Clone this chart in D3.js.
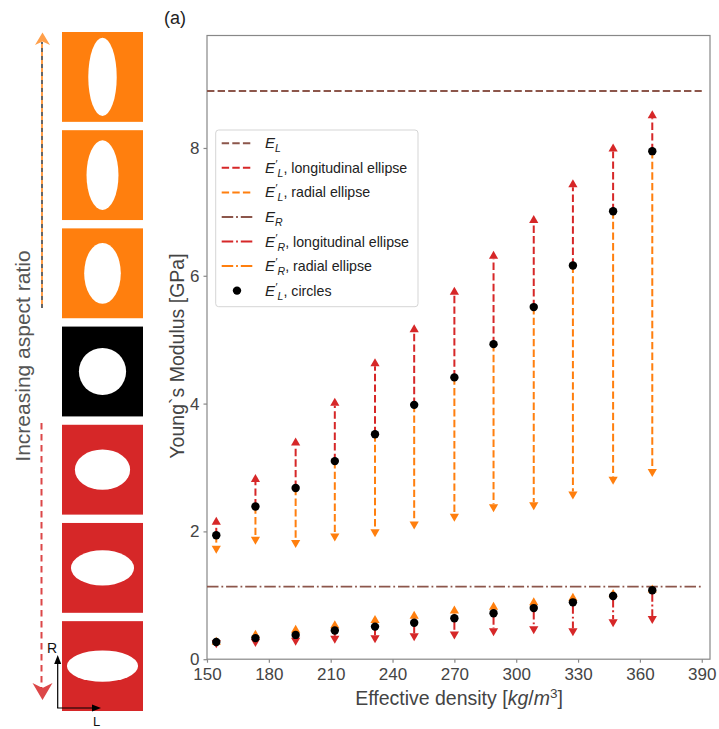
<!DOCTYPE html>
<html>
<head>
<meta charset="utf-8">
<script src="https://cdnjs.cloudflare.com/ajax/libs/d3/7.8.5/d3.min.js"></script>
<style>
  body { margin: 0; background: #fff; }
  svg { font-family: "Liberation Sans", Arial, sans-serif; }
</style>
</head>
<body>
<svg width="719" height="729"></svg>
<script>
// data
var density = [154.5, 173.5, 193, 212, 231.5, 250.5, 270, 289, 308.5, 327.5, 347, 366];
var ELcircles = [1.94, 2.39, 2.68, 3.10, 3.52, 3.98, 4.41, 4.93, 5.51, 6.16, 7.01, 7.95];
var ELlong = [2.23, 2.90, 3.47, 4.09, 4.71, 5.24, 5.83, 6.39, 6.95, 7.51, 8.07, 8.59];
var ELrad = [1.65, 1.79, 1.74, 1.84, 1.91, 2.03, 2.15, 2.30, 2.33, 2.50, 2.73, 2.85];
var ERcircles = [0.27, 0.33, 0.38, 0.45, 0.51, 0.57, 0.64, 0.72, 0.80, 0.89, 0.99, 1.08];
var ERlong = [0.17, 0.19, 0.21, 0.24, 0.25, 0.28, 0.31, 0.36, 0.39, 0.36, 0.50, 0.55];
var ERrad = [0.35, 0.46, 0.54, 0.61, 0.69, 0.76, 0.84, 0.90, 0.97, 1.04, 1.10, 1.17];
var EL = 8.89, ER = 1.135;
var xTicks = [150, 180, 210, 240, 270, 300, 330, 360, 390];
var yTicks = [0, 2, 4, 6, 8];
// aspect ratio (height / width) of the pores on the left
var aspect = [2.75, 2.18, 1.66, 1, 0.73, 0.56, 0.44];
var poreType = ["radial", "radial", "radial", "circle", "long", "long", "long"];

var red = "#d62728", orange = "#ff7f0e", brown = "#8c564b", txt = "#444", spine = "#888";

var svg = d3.select("svg");

var x = d3.scaleLinear().domain([150, 394]).range([207, 710]),
    y = d3.scaleLinear().domain([0, 9.76]).range([659.2, 35.5]);

// frame
svg.append("rect")
    .attr("x", 207).attr("y", 35.5)
    .attr("width", 503).attr("height", 623.7)
    .attr("fill", "none").attr("stroke", spine).attr("stroke-width", 1.2);

var xAxis = svg.append("g")
    .attr("transform", "translate(0,659.2)")
    .call(d3.axisBottom(x).tickValues(xTicks).tickSize(3.5).tickPadding(5));
var yAxis = svg.append("g")
    .attr("transform", "translate(207,0)")
    .call(d3.axisLeft(y).tickValues(yTicks).tickSize(3.5).tickPadding(4));
[xAxis, yAxis].forEach(function (a) {
    a.select(".domain").remove();
    a.selectAll("line").attr("stroke", spine).attr("stroke-width", 1.2);
    a.selectAll("text").attr("fill", txt).attr("font-size", 17)
        .attr("font-family", "Liberation Sans, Arial, sans-serif");
});
//axes

var dash = "7.4,3.2", dashdot = "11.5,2.9,1.8,2.9";

// reference lines E_L and E_R
svg.append("line")
    .attr("x1", x(150)).attr("x2", x(390))
    .attr("y1", y(EL)).attr("y2", y(EL))
    .attr("stroke", brown).attr("stroke-width", 2).attr("stroke-dasharray", dash);
svg.append("line")
    .attr("x1", x(150)).attr("x2", x(390))
    .attr("y1", y(ER)).attr("y2", y(ER))
    .attr("stroke", brown).attr("stroke-width", 1.8).attr("stroke-dasharray", dashdot);

function arrows(from, to, color, pattern) {
    var g = svg.append("g");
    density.forEach(function (d, i) {
        var x0 = x(d), y0 = y(from[i]), y1 = y(to[i]);
        var dir = y1 < y0 ? 1 : -1;   // 1 = pointing up
        var headLen = 8, headW = 4.6;
        var yBase = y1 + dir * headLen;
        if ((y0 - yBase) * dir > 0) {
            g.append("line")
                .attr("x1", x0).attr("x2", x0)
                .attr("y1", y0).attr("y2", yBase)
                .attr("stroke", color).attr("stroke-width", 2)
                .attr("stroke-dasharray", pattern);
        }
        g.append("path")
            .attr("d", "M" + x0 + "," + y1 + "L" + (x0 + headW) + "," + yBase +
                "L" + (x0 - headW) + "," + yBase + "Z")
            .attr("fill", color);
    });
}
arrows(ELcircles, ELlong, red, dash);
arrows(ELcircles, ELrad, orange, dash);
arrows(ERcircles, ERrad, orange, dashdot);
arrows(ERcircles, ERlong, red, dashdot);
//arrows from circles to the ellipse cases

svg.selectAll(".dotL")
    .data(density)
    .enter().append("circle")
    .attr("cx", function (d) { return x(d); })
    .attr("cy", function (d, i) { return y(ELcircles[i]); })
    .attr("r", 4.2).attr("fill", "#000");
svg.selectAll(".dotR")
    .data(density)
    .enter().append("circle")
    .attr("cx", function (d) { return x(d); })
    .attr("cy", function (d, i) { return y(ERcircles[i]); })
    .attr("r", 4.2).attr("fill", "#000");
//circle results

// axis labels and title
svg.append("text")
    .attr("x", 459).attr("y", 705)
    .attr("text-anchor", "middle").attr("fill", txt).attr("font-size", 19.5)
    .html('Effective density [<tspan font-style="italic">kg</tspan>/<tspan font-style="italic">m</tspan><tspan dy="-7" font-size="13.5">3</tspan><tspan dy="7">]</tspan>');
svg.append("text")
    .attr("transform", "translate(184,356) rotate(-90)")
    .attr("text-anchor", "middle").attr("fill", txt).attr("font-size", 19.5)
    .text("Young`s Modulus [GPa]");
svg.append("text")
    .attr("x", 164).attr("y", 24)
    .attr("fill", "#222").attr("font-size", 18)
    .text("(a)");

// legend
var legendItems = [
    { color: brown, pattern: dash, sub: "L", prime: false, label: "" },
    { color: red, pattern: dash, sub: "L", prime: true, label: ", longitudinal ellipse" },
    { color: orange, pattern: dash, sub: "L", prime: true, label: ", radial ellipse" },
    { color: brown, pattern: dashdot, sub: "R", prime: false, label: "" },
    { color: red, pattern: dashdot, sub: "R", prime: true, label: ", longitudinal ellipse" },
    { color: orange, pattern: dashdot, sub: "R", prime: true, label: ", radial ellipse" },
    { color: "#000", pattern: null, sub: "L", prime: true, label: ", circles" }
];
svg.append("rect")
    .attr("x", 215.7).attr("y", 130).attr("width", 202.3).attr("height", 176.7)
    .attr("rx", 3).attr("fill", "#fff").attr("fill-opacity", 0.85)
    .attr("stroke", "#d5d5d5").attr("stroke-width", 1);
var leg = svg.selectAll(".leg")
    .data(legendItems)
    .enter().append("g")
    .attr("transform", function (d, i) { return "translate(0," + (143.3 + i * 24.55) + ")"; });
leg.each(function (d) {
    var g = d3.select(this);
    if (d.pattern) {
        g.append("line")
            .attr("x1", 221.7).attr("x2", 252.3)
            .attr("stroke", d.color).attr("stroke-width", 2)
            .attr("stroke-dasharray", d.pattern);
    } else {
        g.append("circle").attr("cx", 237).attr("r", 4.2).attr("fill", "#000");
    }
    var t = g.append("text").attr("x", 265).attr("y", 5).attr("fill", "#222").attr("font-size", 14.2);
    t.append("tspan").attr("font-style", "italic").attr("font-size", 15).text("E");
    if (d.prime) {
        t.append("tspan").attr("dx", 0.5).attr("dy", -5).attr("font-size", 11).text("′");
        t.append("tspan").attr("dy", 9).attr("font-size", 10.5)
            .attr("font-style", "italic").text(d.sub);
        t.append("tspan").attr("dy", -4).text(d.label);
    } else {
        t.append("tspan").attr("dy", 4).attr("font-size", 10.5)
            .attr("font-style", "italic").text(d.sub);
    }
});

// left panel: pore shapes
var poreColor = { radial: orange, circle: "#000", long: red };
var band = d3.scaleBand().domain(d3.range(aspect.length)).range([32, 711]).paddingInner(0.085);
var r0 = 23.6;
var pores = svg.selectAll(".pore")
    .data(aspect)
    .enter().append("g")
    .attr("transform", function (d, i) { return "translate(62," + band(i) + ")"; });
pores.append("rect")
    .attr("width", 81).attr("height", band.bandwidth())
    .attr("fill", function (d, i) { return poreColor[poreType[i]]; });
pores.append("ellipse")
    .attr("cx", 40.5).attr("cy", band.bandwidth() / 2)
    .attr("rx", function (d) { return r0 / Math.sqrt(d); })
    .attr("ry", function (d) { return r0 * Math.sqrt(d); })
    .attr("fill", "#fff");

svg.append("text")
    .attr("transform", "translate(30,356) rotate(-90)")
    .attr("text-anchor", "middle").attr("fill", "#555").attr("font-size", 21)
    .text("Increasing aspect ratio");

// aspect ratio arrows
svg.append("line")
    .attr("x1", 42).attr("x2", 42).attr("y1", 308).attr("y2", 42)
    .attr("stroke", "#000").attr("stroke-width", 1.2).attr("stroke-dasharray", "4,4");
svg.append("line")
    .attr("x1", 42).attr("x2", 42).attr("y1", 308).attr("y2", 42)
    .attr("stroke", orange).attr("stroke-opacity", 0.75).attr("stroke-width", 2)
    .attr("stroke-dasharray", "4,4").attr("stroke-dashoffset", 4);
svg.append("path")
    .attr("d", "M42.5,32.5L50,45L42.5,41.5L35,45Z")
    .attr("fill", orange).attr("fill-opacity", 0.75);
svg.append("line")
    .attr("x1", 41.5).attr("x2", 41.5).attr("y1", 423).attr("y2", 688)
    .attr("stroke", red).attr("stroke-opacity", 0.85).attr("stroke-width", 2)
    .attr("stroke-dasharray", "6.5,4.5");
svg.append("path")
    .attr("d", "M42.5,700L32.5,683L42.5,688L52.5,683Z")
    .attr("fill", red).attr("fill-opacity", 0.85);

// R / L orientation axes
svg.append("line")
    .attr("x1", 57.7).attr("x2", 57.7).attr("y1", 708).attr("y2", 663)
    .attr("stroke", "#000").attr("stroke-width", 1.2);
svg.append("path").attr("d", "M57.7,655L61.2,664L54.2,664Z").attr("fill", "#000");
svg.append("line")
    .attr("x1", 57.1).attr("x2", 93).attr("y1", 708).attr("y2", 708)
    .attr("stroke", "#000").attr("stroke-width", 1.2);
svg.append("path").attr("d", "M101,708L92,704.5L92,711.5Z").attr("fill", "#000");
svg.append("text").attr("x", 47).attr("y", 653).attr("font-size", 14).attr("fill", "#111").text("R");
svg.append("text").attr("x", 93).attr("y", 726).attr("font-size", 13).attr("fill", "#111").text("L");
</script>
</body>
</html>
